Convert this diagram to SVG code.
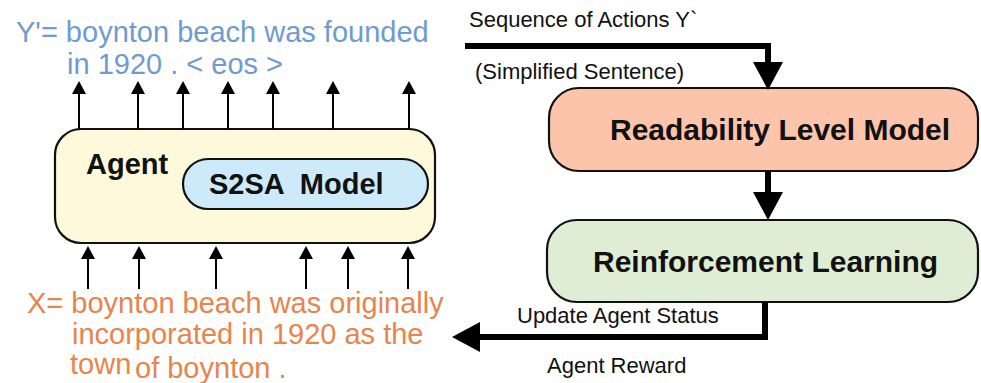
<svg xmlns="http://www.w3.org/2000/svg" width="981" height="383" viewBox="0 0 981 383">
<defs>
<marker id="sm" markerUnits="userSpaceOnUse" markerWidth="13" markerHeight="14" viewBox="0 0 13 14" refX="0" refY="7" orient="auto"><path d="M0,0 L13,7 L0,14 z" fill="#000"/></marker>
<marker id="big" markerUnits="userSpaceOnUse" markerWidth="28" markerHeight="30" viewBox="0 0 28 30" refX="0" refY="15" orient="auto"><path d="M0,0 L28,15 L0,30 z" fill="#000"/></marker>
<style>
.box{stroke:#111;stroke-width:2.2}
.bold{font-family:"Liberation Sans",Arial,sans-serif;font-weight:bold;fill:#111}
.lbl{font-family:"Liberation Sans",Arial,sans-serif;font-size:22px;fill:#111}
.blue{font-family:"Liberation Sans",Arial,sans-serif;font-size:29px;fill:#6f9bd0}
.orange{font-family:"Liberation Sans",Arial,sans-serif;font-size:29px;fill:#e8844c}
.thin{stroke:#000;stroke-width:2;fill:none;marker-end:url(#sm)}
.thick{stroke:#000;stroke-width:6;fill:none;marker-end:url(#big)}
</style>
</defs>
<rect width="981" height="383" fill="#fff"/>

<g id="output-text">
<text class="blue" x="16" y="42">Y'= boynton beach was founded</text>
<text class="blue" x="67" y="74">in 1920 . &lt; eos &gt;</text>
</g>

<g id="agent">
<rect class="box" x="55" y="129" width="380" height="114" rx="26" fill="#fdf9da"/>
<text class="bold" x="86" y="174" font-size="29">Agent</text>
</g>

<g id="s2sa">
<rect class="box" x="183" y="159" width="245" height="50" rx="25" fill="#cdeafa"/>
<text class="bold" x="209" y="194" font-size="29" xml:space="preserve">S2SA  Model</text>
</g>

<g id="input-text">
<text class="orange" x="27" y="313">X= boynton beach was originally</text>
<text class="orange" x="72" y="344">incorporated in 1920 as the</text>
<text class="orange" x="70" y="374">town</text>
<text class="orange" x="135" y="378">of boynton .</text>
</g>

<g id="readability">
<rect class="box" x="549" y="88" width="429" height="83" rx="30" fill="#fcc4ab"/>
<text class="bold" x="610" y="140" font-size="30">Readability Level Model</text>
</g>

<g id="rl">
<rect class="box" x="547" y="220" width="431" height="82" rx="30" fill="#e0edd5"/>
<text class="bold" x="593" y="272" font-size="30">Reinforcement Learning</text>
</g>

<g id="labels">
<text class="lbl" x="469" y="27">Sequence of Actions Y`</text>
<text class="lbl" x="475" y="79">(Simplified Sentence)</text>
<text class="lbl" x="517" y="323">Update Agent Status</text>
<text class="lbl" x="547" y="373">Agent Reward</text>
</g>

<g id="connectors">
<path class="thin" d="M79,129 V94"/>
<path class="thin" d="M138,129 V94"/>
<path class="thin" d="M183,129 V94"/>
<path class="thin" d="M228,129 V94"/>
<path class="thin" d="M273,129 V94"/>
<path class="thin" d="M333,129 V94"/>
<path class="thin" d="M409,129 V94"/>
<path class="thin" d="M88,289 V259"/>
<path class="thin" d="M139,289 V259"/>
<path class="thin" d="M216,289 V259"/>
<path class="thin" d="M306,289 V259"/>
<path class="thin" d="M348,289 V259"/>
<path class="thin" d="M408,289 V259"/>
<path class="thick" d="M465,46 H768 V62"/>
<path class="thick" d="M768,171 V192"/>
<path class="thick" d="M765,302 V337 H480"/>
</g>
</svg>
